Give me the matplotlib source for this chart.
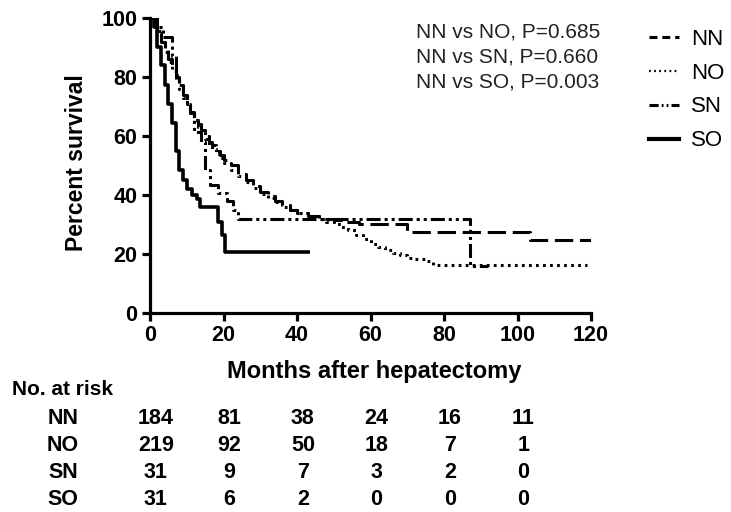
import matplotlib
matplotlib.use("Agg")
import matplotlib.pyplot as plt
from matplotlib.lines import Line2D
import matplotlib.transforms as mtransforms

plt.rcParams["font.family"] = ["Liberation Sans", "DejaVu Sans"]

# Kaplan-Meier step curves (months, percent survival)
nn_t = [0, 1, 2, 3, 4, 5, 6, 7, 8, 9, 10, 11, 12, 13, 14, 15, 16, 17, 18, 19, 20,
        22, 24, 26, 28, 30, 32, 34, 36, 38, 40, 43, 46, 50, 53, 57, 70, 103.5, 120]
nn_s = [100, 98, 95, 92, 89, 86, 83, 80, 77, 74, 71, 68, 66, 64, 62, 60, 58, 57, 55, 53.5, 52,
        50, 47, 45, 43, 41, 39.5, 38, 36.5, 35, 34, 33, 32, 31.5, 31, 30, 27.6, 24.7, 24.7]

no_t = [0, 1, 2, 3, 4, 5, 6, 7, 8, 9, 10, 11, 12, 13, 14, 15, 16, 17, 18, 19, 20,
        22, 24, 26, 28, 30, 32, 34, 36, 38, 40, 43, 46, 48, 50, 52, 54, 56, 58, 60,
        62, 64, 66, 68, 70, 72, 75, 77, 119]
no_s = [100, 98, 95.5, 92, 88.5, 85, 82, 79, 76, 73, 70.5, 68, 65.5, 63, 61, 59, 57, 55.5, 54, 52.5, 51,
        48.5, 46.5, 44.5, 42.5, 40.5, 39, 37.5, 36, 35, 34, 33, 32, 31, 30, 29, 28, 26.5, 25, 23.5,
        22.5, 21.5, 20.5, 19.5, 18.5, 18.2, 17.5, 16.3, 16.3]

sn_t = [0, 2, 3.5, 6, 7, 8, 9, 10, 11, 12, 14, 15, 16.3, 18.5, 21, 22.5, 24, 87, 92]
sn_s = [100, 96.8, 93.5, 87, 80.6, 77.4, 74.2, 71, 67.7, 61.3, 58, 48.4, 43.5, 40.6, 38, 35, 32, 16, 16]

so_t = [0, 1, 2, 3, 4, 5, 6, 7, 8, 9, 10, 11.3, 12.7, 13.6, 18.5, 19.5, 20.4, 43.5]
so_s = [100, 96.8, 90.3, 83.9, 77.4, 71, 64.5, 54.8, 48.4, 45.2, 41.9, 40, 38.7, 36, 31, 26.4, 20.8, 20.8]

groups = ["NN", "NO", "SN", "SO"]
p_text = ["NN vs NO, P=0.685", "NN vs SN, P=0.660", "NN vs SO, P=0.003"]

risk_times = [0, 20, 40, 60, 80, 100]
risk_nn = [184, 81, 38, 24, 16, 11]
risk_no = [219, 92, 50, 18, 7, 1]
risk_sn = [31, 9, 7, 3, 2, 0]
risk_so = [31, 6, 2, 0, 0, 0]

fig = plt.figure(figsize=(7.31, 5.12), dpi=100)
ax = fig.add_axes([0.2052, 0.3887, 0.6033, 0.5762])

lw = 2.2
styles = {
    "NN": dict(dashes=(6, 2.2)),
    "NO": dict(dashes=(0.9, 1.4)),
    "SN": dict(dashes=(4.6, 1.3, 1, 1.3, 1, 1.3)),
    "SO": dict(linestyle="-"),
}
curves = {"NN": (nn_t, nn_s), "NO": (no_t, no_s), "SN": (sn_t, sn_s), "SO": (so_t, so_s)}

for g in groups:
    t, s = curves[g]
    ax.step(t, s, where="post", color="black", lw=lw if g != "SO" else 2.6,
            solid_capstyle="butt", dash_capstyle="butt", **styles[g])

ax.set_xlim(0, 120)
ax.set_ylim(0, 100)
ax.set_xticks([0, 20, 40, 60, 80, 100, 120])
ax.set_yticks([0, 20, 40, 60, 80, 100])
for side in ["top", "right"]:
    ax.spines[side].set_visible(False)
for side in ["left", "bottom"]:
    ax.spines[side].set_linewidth(2.3)
ax.tick_params(width=2.3, length=6, labelsize=15.5, pad=3)
for lab in ax.get_xticklabels() + ax.get_yticklabels():
    lab.set_fontweight("bold")

ax.set_ylabel("Percent survival", fontsize=16.5, fontweight="bold")
ax.yaxis.set_label_coords(-0.14, 0.51)
ax.set_xlabel("Months after hepatectomy", fontsize=17, fontweight="bold")
ax.xaxis.set_label_coords(0.508, -0.16)

# p-values
for i, txt in enumerate(p_text):
    ax.text(0.603, 0.953 - i * 0.085, txt, transform=ax.transAxes, fontsize=15,
            color="#222222", va="center", ha="left")

# legend with short handles
handles = [
    Line2D([], [], color="black", lw=2.2, dashes=(2.6, 1.6)),
    Line2D([], [], color="black", lw=1.6, dashes=(0.8, 1.5)),
    Line2D([], [], color="black", lw=2.2, dashes=(3.0, 1.0, 0.6, 1.0, 0.6, 1.0)),
    Line2D([], [], color="black", lw=3.0),
]
fig.legend(handles, groups, loc="upper left", bbox_to_anchor=(0.888, 0.944),
           frameon=False, fontsize=16, handlelength=1.35, handletextpad=0.55,
           labelspacing=0.58, borderpad=0, borderaxespad=0)

# number at risk table
trans = mtransforms.blended_transform_factory(ax.transData, ax.transAxes)
ax.text(-0.313, -0.26, "No. at risk", transform=ax.transAxes, fontsize=15,
        fontweight="bold", ha="left", va="center")
rows = [risk_nn, risk_no, risk_sn, risk_so]
for r, (g, vals) in enumerate(zip(groups, rows)):
    y = -0.356 - r * 0.092
    ax.text(-0.197, y, g, transform=ax.transAxes, fontsize=15.5, fontweight="bold",
            ha="center", va="center")
    for tm, v in zip(risk_times, vals):
        ax.text(tm + 1.6, y, str(v), transform=trans, fontsize=15.5, fontweight="bold",
                ha="center", va="center")

fig.savefig("out.png", dpi=100)
